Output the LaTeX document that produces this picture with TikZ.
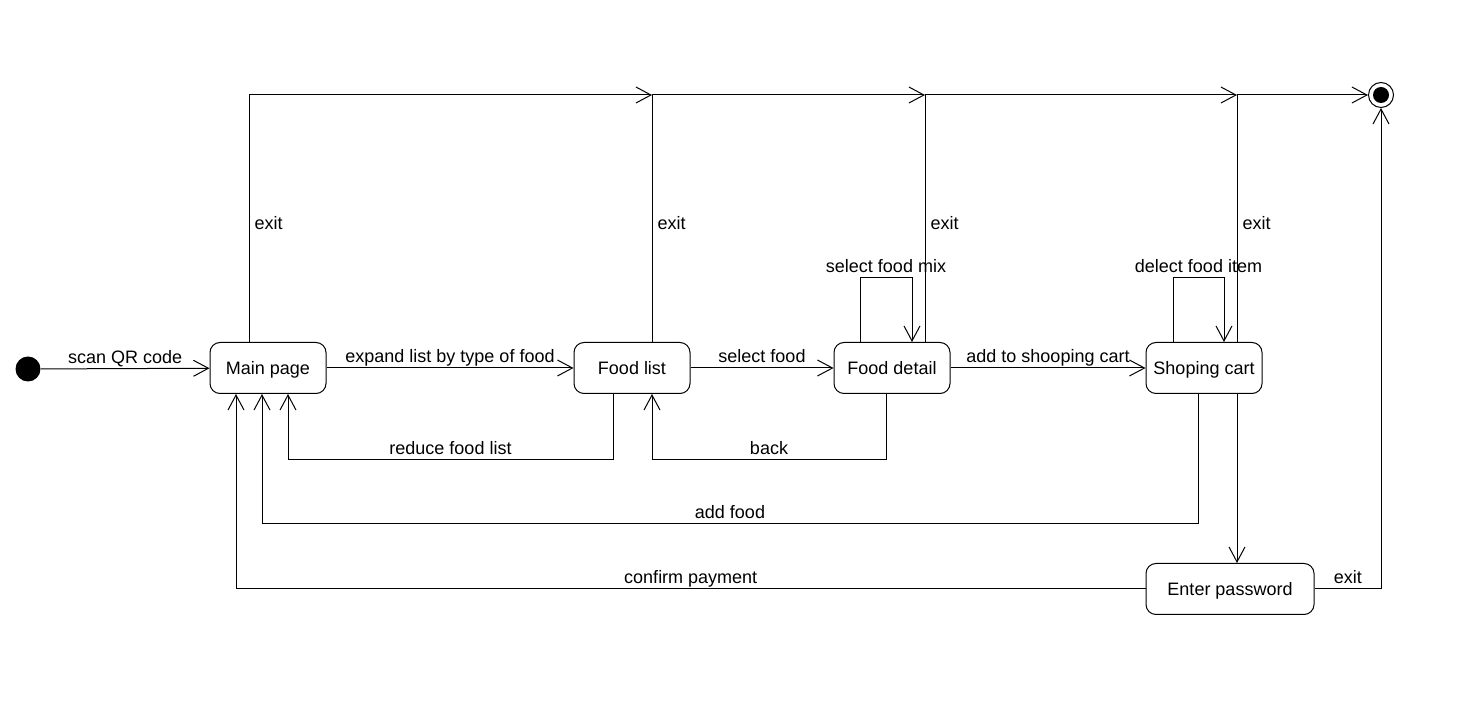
\documentclass[tikz,border=0pt]{standalone}
\usepackage{fontspec}
\setmainfont{Liberation Sans}
\usetikzlibrary{arrows.meta,calc,positioning}

\begin{document}
\begin{tikzpicture}[x=0.5pt,y=-0.5pt,line width=0.5pt,
    state/.style={draw, rounded corners=5pt, minimum width=58pt, minimum height=25.5pt, inner sep=0pt, text height=6.5pt, text depth=0pt, font=\fontsize{9}{11}\selectfont},
    lbl/.style={font=\fontsize{9}{11}\selectfont, inner sep=2.5pt, text height=6.5pt, text depth=0pt},
    arr/.style={-{Straight Barb[length=7.5pt,width=8pt]}}]
    \useasboundingbox (0,0) rectangle (1462,710);

    % Start and end points
    \node[circle, fill, minimum size=12.5pt, inner sep=0pt] (init) at (28,369) {};
    \node[circle, draw, minimum size=12.5pt, inner sep=0pt] (fin) at (1381,95) {};
    \fill (fin.center) circle (4pt);

    % States
    \node[state] (main) at (268,368) {Main page};
    \node[state] (list) at (632,368) {Food list};
    \node[state] (detail) at (892,368) {Food detail};
    \node[state] (cart) at (1204,368) {Shoping cart};
    \node[state, minimum width=84pt] (pass) at (1230,589) {Enter password};

    % Forward transitions
    \draw[arr] (init) -- node[lbl, above] {scan QR code} (main);
    \draw[arr] (main) -- node[lbl, above] {expand list by type of food} (list);
    \draw[arr] (list) -- node[lbl, above] {select food} (detail);
    \draw[arr] (detail) -- node[lbl, above] {add to shooping cart} (cart);

    % Exit chain along the top
    \coordinate (t0) at ($(main.north)+(-19,0)$);
    \coordinate (t1) at ($(list.north)+(20,0)$);
    \coordinate (t2) at ($(detail.north)+(33,0)$);
    \coordinate (t3) at ($(cart.north)+(33,0)$);
    \draw[arr] (t0) |- node[lbl, right, pos=0.24] {exit} (t1 |- fin);
    \draw[arr] (t1) |- node[lbl, right, pos=0.24] {exit} (t2 |- fin);
    \draw[arr] (t2) |- node[lbl, right, pos=0.24] {exit} (t3 |- fin);
    \draw[arr] (t3) |- node[lbl, right, pos=0.24] {exit} (fin);

    % Self loops
    \draw[arr] ($(detail.north)+(-32,0)$) -- ++(0,-64) -- node[lbl, above] {select food mix} ++(52,0) -- ($(detail.north)+(20,0)$);
    \draw[arr] ($(cart.north)+(-31,0)$) -- ++(0,-64) -- node[lbl, above] {delect food item} ++(51,0) -- ($(cart.north)+(20,0)$);

    % Backward transitions
    \draw[arr] ($(list.south)+(-19,0)$) -- ++(0,66) -- node[lbl, above] {reduce food list} ++(-325,0) -- ($(main.south)+(20,0)$);
    \draw[arr] ($(detail.south)+(-6,0)$) -- ++(0,66) -- node[lbl, above] {back} ++(-234,0) -- ($(list.south)+(20,0)$);
    \draw[arr] ($(cart.south)+(-6,0)$) -- ++(0,130) -- node[lbl, above] {add food} ++(-936,0) -- ($(main.south)+(-6,0)$);

    % Payment
    \draw[arr] ($(cart.south)+(33,0)$) coordinate (c1) -- (c1 |- pass.north);
    \draw[arr] (pass.west) -| node[lbl, above, pos=0.25] {confirm payment} ($(main.south)+(-32,0)$);
    \draw[arr] (pass.east) -| node[lbl, above, pos=0.25] {exit} (fin);
\end{tikzpicture}
\end{document}
